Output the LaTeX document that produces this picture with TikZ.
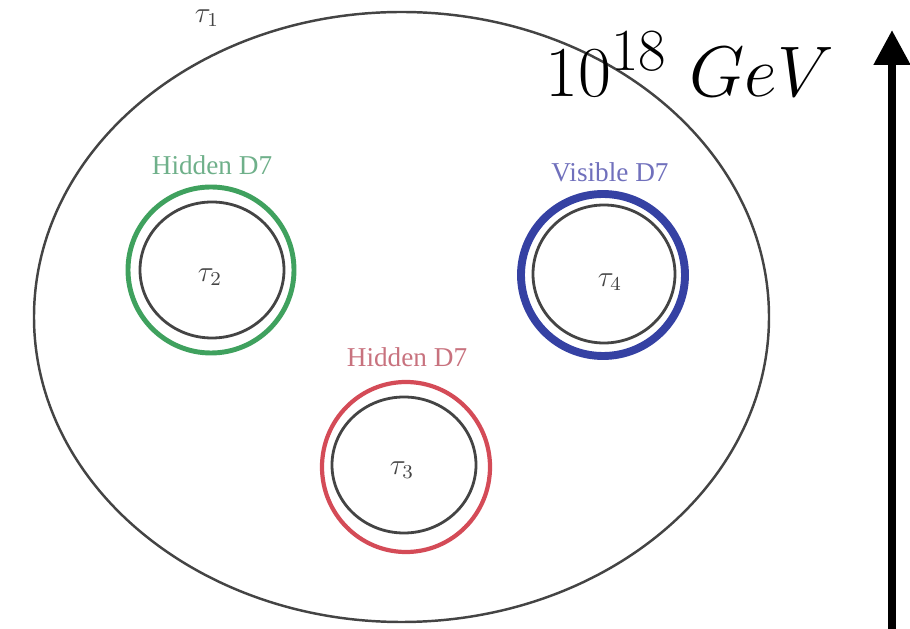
\documentclass[tikz,border=0pt]{standalone}
\usepackage[no-math]{fontspec}
\newfontfamily\branefont{Liberation Serif}
\definecolor{HiddenGreen}{HTML}{3FA15E}
\definecolor{HiddenGreenText}{HTML}{6FB08A}
\definecolor{HiddenRed}{HTML}{D44B57}
\definecolor{HiddenRedText}{HTML}{C8727E}
\definecolor{VisibleBlue}{HTML}{3541A3}
\definecolor{VisibleBlueText}{HTML}{7070BC}
\definecolor{CycleGray}{HTML}{444444}
\usepackage{tikz}
\usetikzlibrary{arrows.meta}
\tikzset{
  bulkline/.style={
    draw=CycleGray,
    line width=1.4pt
  },
  cycleline/.style={
    draw=CycleGray,
    line width=1.6pt
  },
  stackline/.style={
    line width=#1
  },
  branelabel/.style={
    font=\branefont\fontsize{15.5}{18}\selectfont,
    inner sep=0pt
  },
  modlabel/.style={
    text=CycleGray,
    font=\large,
    scale=1.4,
    inner sep=0pt
  },
  scalearrow/.style={
    line width=4.5pt,
    -{Triangle[length=0.7cm,width=0.7cm]}
  }
}

\begin{document}
\begin{tikzpicture}[x=0.02cm,y=0.02cm]
  \useasboundingbox (0,0) rectangle (910,629);
  % bulk volume
  \draw[bulkline] (401.5,312) ellipse [x radius=367.5,y radius=305];
  \node[modlabel] (tau1) at (207,611) {$\tau_1$};
  % hidden stack, green
  \draw[stackline=2.8pt,draw=HiddenGreen] (211,359) ellipse [x radius=83,y radius=83];
  \draw[cycleline] (212,359) ellipse [x radius=72,y radius=68];
  \node[branelabel,text=HiddenGreenText] (hidgreen) at (212,464) {Hidden D7};
  \node[modlabel] (tau2) at (210,352) {$\tau_2$};
  % visible stack, blue
  \draw[stackline=4.5pt,draw=VisibleBlue] (603,354) ellipse [x radius=82,y radius=81];
  \draw[cycleline] (604,355) ellipse [x radius=71,y radius=69];
  \node[branelabel,text=VisibleBlueText] (visblue) at (610,457) {Visible D7};
  \node[modlabel] (tau4) at (610,347) {$\tau_4$};
  % hidden stack, red
  \draw[stackline=2.4pt,draw=HiddenRed] (406,162) ellipse [x radius=84,y radius=85];
  \draw[cycleline] (404,164) ellipse [x radius=72,y radius=68];
  \node[branelabel,text=HiddenRedText] (hidred) at (407,272) {Hidden D7};
  \node[modlabel] (tau3) at (402,159) {$\tau_3$};
  % energy scale
  \node[anchor=base west,inner sep=0pt,font=\Huge,scale=1.64] (scale) at (545,532) {$10^{18}~GeV$};
  \coordinate (arrbot) at (892,0);
  \coordinate (arrtop) at (892,599);
  \draw[scalearrow] (arrbot) -- (arrtop);
\end{tikzpicture}
\end{document}
